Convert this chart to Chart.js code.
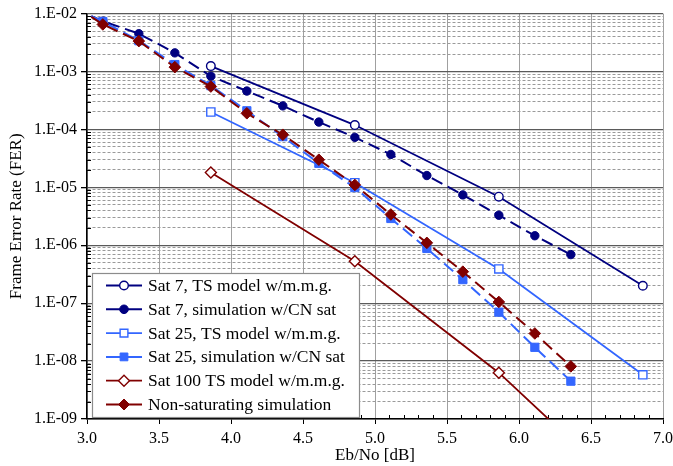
<!DOCTYPE html>
<html>
<head>
<meta charset="utf-8">
<script src="https://cdn.jsdelivr.net/npm/chart.js@4.4.1/dist/chart.umd.min.js"></script>
<style>
  html, body { margin: 0; padding: 0; background: #fff; }
  #wrap { width: 673px; height: 466px; }
</style>
</head>
<body>
<div id="wrap"><canvas id="ferChart"></canvas></div>
<script>
// Eb/No positions (dB); the first sim entry is where the curve starts, without a marker
const ebnoSim = [3.03, 3.11, 3.36, 3.61, 3.86, 4.11, 4.36, 4.61, 4.86, 5.11, 5.36, 5.61, 5.86, 6.11, 6.36];
const ebnoModel = [3.86, 4.86, 5.86, 6.86];

// Frame error rates
const sat7Model = [1.24e-3, 1.19e-4, 6.9e-6, 2.0e-7];
const sat7Sim = [9.0e-3, 7.4e-3, 4.5e-3, 2.1e-3, 8.3e-4, 4.6e-4, 2.55e-4, 1.34e-4, 7.3e-5, 3.7e-5, 1.6e-5, 7.4e-6, 3.3e-6, 1.46e-6, 6.9e-7];
const sat25Model = [2.0e-4, 1.2e-5, 3.9e-7, 5.8e-9];
const sat25Sim = [9.0e-3, 7.3e-3, 3.4e-3, 1.32e-3, 5.7e-4, 2.1e-4, 7.5e-5, 2.6e-5, 9.9e-6, 2.9e-6, 8.8e-7, 2.55e-7, 7.0e-8, 1.73e-8, 4.5e-9];
const sat100Model = [1.8e-5, 5.3e-7, 6.3e-9, 3.0e-11];
const nonSatSim = [8.8e-3, 6.5e-3, 3.35e-3, 1.19e-3, 5.5e-4, 1.9e-4, 8.1e-5, 3.0e-5, 1.1e-5, 3.4e-6, 1.1e-6, 3.5e-7, 1.05e-7, 3.0e-8, 8.1e-9];

const seriesNames = [
  'Sat 7, TS model w/m.m.g.',
  'Sat 7, simulation w/CN sat',
  'Sat 25, TS model w/m.m.g.',
  'Sat 25, simulation w/CN sat',
  'Sat 100 TS model w/m.m.g.',
  'Non-saturating simulation'
];

// axis ticks
const xTicks = [3.0, 3.5, 4.0, 4.5, 5.0, 5.5, 6.0, 6.5, 7.0];
const decades = [-9, -8, -7, -6, -5, -4, -3, -2];

const NAVY = '#000080';
const BLUE = '#3366ff';
const MAROON = '#800000';
const FONT = '"Liberation Serif", "Times New Roman", serif';

function pts(xs, ys) {
  return xs.map((x, i) => ({ x: x, y: ys[i] }));
}

function isDecade(v) {
  const l = Math.log10(v);
  return Math.abs(l - Math.round(l)) < 1e-6;
}

// hide the marker on the starting point of each simulated curve
const simRadius = (r) => (ctx) => ctx.dataIndex === 0 ? 0 : r;

const datasets = [
  {
    label: seriesNames[0], data: pts(ebnoModel, sat7Model),
    borderColor: NAVY, borderWidth: 1.8,
    pointStyle: 'circle', pointRadius: 4.3, pointBackgroundColor: '#fff',
    pointBorderColor: NAVY, pointBorderWidth: 1.4, order: 6
  },
  {
    label: seriesNames[1], data: pts(ebnoSim, sat7Sim),
    borderColor: NAVY, borderWidth: 2, borderDash: [12, 6],
    pointStyle: 'circle', pointRadius: simRadius(4.2), pointBackgroundColor: NAVY,
    pointBorderColor: NAVY, pointBorderWidth: 1, order: 5
  },
  {
    label: seriesNames[2], data: pts(ebnoModel, sat25Model),
    borderColor: BLUE, borderWidth: 1.8,
    pointStyle: 'rect', pointRadius: 5.8, pointBackgroundColor: '#fff',
    pointBorderColor: BLUE, pointBorderWidth: 1.4, order: 4
  },
  {
    label: seriesNames[3], data: pts(ebnoSim, sat25Sim),
    borderColor: BLUE, borderWidth: 2, borderDash: [12, 6],
    pointStyle: 'rect', pointRadius: simRadius(5.8), pointBackgroundColor: BLUE,
    pointBorderColor: BLUE, pointBorderWidth: 1, order: 3
  },
  {
    label: seriesNames[4], data: pts(ebnoModel, sat100Model),
    borderColor: MAROON, borderWidth: 1.8,
    pointStyle: 'rectRot', pointRadius: 5.5, pointBackgroundColor: '#fff',
    pointBorderColor: MAROON, pointBorderWidth: 1.4, order: 2
  },
  {
    label: seriesNames[5], data: pts(ebnoSim, nonSatSim),
    borderColor: MAROON, borderWidth: 2, borderDash: [12, 6],
    pointStyle: 'rectRot', pointRadius: simRadius(5.8), pointBackgroundColor: MAROON,
    pointBorderColor: MAROON, pointBorderWidth: 1, order: 1
  }
];

// small inward ticks: every 0.1 dB on x, 2..9 per decade on y
const minorTicks = {
  id: 'minorTicks',
  beforeDatasetsDraw(chart) {
    const { ctx, chartArea: a, scales: { x, y } } = chart;
    ctx.save();
    ctx.strokeStyle = '#000';
    ctx.lineWidth = 1;
    ctx.beginPath();
    for (let k = 31; k < 70; k++) {
      if (k % 5 === 0) continue;
      const px = Math.round(x.getPixelForValue(k / 10)) + 0.5;
      ctx.moveTo(px, a.bottom);
      ctx.lineTo(px, a.bottom - 4);
    }
    decades.slice(0, -1).forEach((e) => {
      for (let m = 2; m <= 9; m++) {
        const py = Math.round(y.getPixelForValue(m * Math.pow(10, e))) + 0.5;
        ctx.moveTo(a.left, py);
        ctx.lineTo(a.left + 4, py);
      }
    });
    ctx.stroke();
    ctx.restore();
  }
};

// boxed legend in the lower-left corner of the plot
const legendBox = {
  id: 'legendBox',
  afterDraw(chart) {
    const { ctx, chartArea: a } = chart;
    const left = a.left + 5, right = 360, top = 273, bottom = a.bottom - 1;
    ctx.save();
    ctx.fillStyle = '#fff';
    ctx.fillRect(left, top, right - left, bottom - top);
    ctx.strokeStyle = '#8c8c8c';
    ctx.lineWidth = 1.2;
    ctx.strokeRect(left + 0.5, top + 0.5, right - left - 1, bottom - top - 1);
    ctx.font = '17.5px ' + FONT;
    ctx.textBaseline = 'middle';
    chart.data.datasets.forEach((ds, i) => {
      const yy = top + 12.5 + i * 23.8;
      ctx.setLineDash([]);
      ctx.strokeStyle = ds.borderColor;
      ctx.lineWidth = ds.borderWidth;
      ctx.beginPath();
      ctx.moveTo(left + 14, yy);
      ctx.lineTo(left + 50, yy);
      ctx.stroke();
      ctx.fillStyle = ds.pointBackgroundColor;
      ctx.strokeStyle = ds.pointBorderColor;
      ctx.lineWidth = ds.pointBorderWidth;
      const r = ds.pointStyle === 'circle' ? 4.3 : 5.5;
      Chart.helpers.drawPoint(ctx, { pointStyle: ds.pointStyle, radius: r, borderWidth: ds.pointBorderWidth, rotation: 0 }, left + 32, yy);
      ctx.fillStyle = '#000';
      ctx.fillText(ds.label, left + 56, yy + 1);
    });
    ctx.restore();
  }
};

new Chart(document.getElementById('ferChart'), {
  type: 'line',
  data: { datasets: datasets },
  plugins: [minorTicks, legendBox],
  options: {
    responsive: true,
    maintainAspectRatio: false,
    animation: false,
    layout: { padding: { top: 13, right: 10, left: 0, bottom: 0 } },
    plugins: { legend: { display: false }, tooltip: { enabled: false } },
    scales: {
      x: {
        type: 'linear', min: 3, max: 7,
        afterFit: (scale) => {
          scale.height = 47;
          scale.paddingLeft = 0;
          scale.paddingRight = 0;
        },
        afterBuildTicks: (scale) => { scale.ticks = xTicks.map((v) => ({ value: v })); },
        ticks: {
          autoSkip: false, maxRotation: 0, padding: 5, color: '#000',
          font: { family: FONT, size: 16 },
          callback: (v) => Number(v).toFixed(1)
        },
        grid: { color: '#a0a0a0', lineWidth: 1, tickColor: '#000', tickLength: 5 },
        border: { color: '#000', width: 1.5 },
        title: {
          display: true, text: 'Eb/No [dB]', color: '#000',
          font: { family: FONT, size: 17 }, padding: { top: 0, bottom: 0 }
        }
      },
      y: {
        type: 'logarithmic', min: 1e-9, max: 1e-2,
        afterFit: (scale) => { scale.width = 87; },
        afterBuildTicks: (scale) => {
          const t = [];
          decades.forEach((e) => {
            const top = e === -2 ? 1 : 9;
            for (let m = 1; m <= top; m++) t.push({ value: m * Math.pow(10, e) });
          });
          scale.ticks = t;
        },
        ticks: {
          autoSkip: false, padding: 4, color: '#000',
          font: { family: FONT, size: 16 },
          callback: (v) => {
            if (!isDecade(v)) return '';
            const e = -Math.round(Math.log10(v));
            return '1.E-' + String(e).padStart(2, '0');
          }
        },
        grid: {
          color: (c) => c.tick && isDecade(c.tick.value) ? '#5a5a5a' : '#9a9a9a',
          lineWidth: (c) => c.tick && isDecade(c.tick.value) ? 1.3 : 1,
          tickColor: (c) => c.tick && isDecade(c.tick.value) ? '#000' : 'rgba(0,0,0,0)',
          tickLength: 6
        },
        border: {
          color: '#000', width: 1.5,
          dash: (c) => c.tick && !isDecade(c.tick.value) ? [3, 2] : []
        },
        title: {
          display: true, text: 'Frame Error Rate (FER)', color: '#000',
          font: { family: FONT, size: 17 }, padding: { top: 6, bottom: 0 }
        }
      }
    }
  }
});
</script>
</body>
</html>
